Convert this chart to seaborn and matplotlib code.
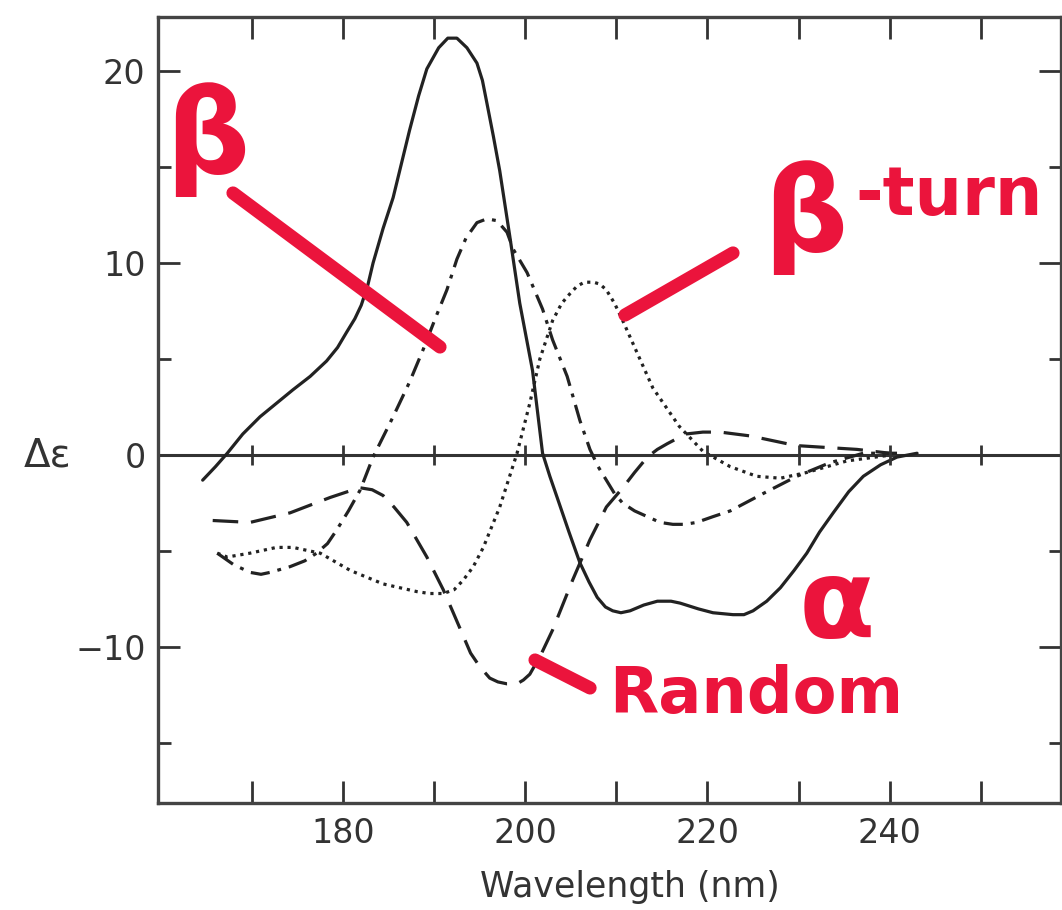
import pandas as pd
import matplotlib
matplotlib.use("Agg")
import matplotlib.pyplot as plt
import seaborn as sns

# CD spectra (wavelength in nm, delta epsilon)
alpha_wl = [164.6, 166.0, 167.3, 169.0, 170.9, 172.7, 174.5, 176.4, 178.2, 179.4, 180.4,
            181.3, 182.0, 182.7, 183.3, 184.4, 185.5, 187.3, 188.3, 189.2, 190.5, 191.5,
            192.5, 193.6, 194.7, 195.3, 195.8, 196.5, 197.2, 198.3, 199.4, 200.8, 201.9,
            202.7, 203.5, 204.8, 206.0, 207.0, 207.9, 208.8, 209.6, 210.5, 211.5, 213.0,
            214.5, 216.0, 217.0, 219.0, 220.6, 222.8, 224.0, 225.0, 226.5, 228.0, 229.5,
            230.9, 232.3, 233.8, 235.5, 237.1, 239.0, 240.8, 243.0]
alpha_de = [-1.3, -0.6, 0.1, 1.1, 2.0, 2.7, 3.4, 4.1, 4.9, 5.6, 6.4,
            7.1, 7.8, 8.8, 10.0, 11.8, 13.4, 16.9, 18.7, 20.1, 21.2, 21.7,
            21.7, 21.2, 20.4, 19.5, 18.3, 16.6, 14.8, 11.4, 7.9, 4.4, 0.1,
            -1.1, -2.2, -4.0, -5.6, -6.6, -7.4, -7.9, -8.1, -8.2, -8.1, -7.8,
            -7.6, -7.6, -7.7, -8.0, -8.2, -8.3, -8.3, -8.1, -7.6, -6.9, -6.0,
            -5.1, -4.0, -3.0, -1.9, -1.1, -0.5, -0.1, 0.1]

sheet_wl = [166.2, 168.0, 169.8, 171.0, 172.0, 174.2, 175.8, 177.1, 178.3, 179.3, 180.6,
            181.9, 183.3, 185.5, 187.3, 188.8, 190.2, 191.4, 192.5, 193.5, 194.7, 195.8,
            196.9, 198.0, 198.7, 200.2, 201.9, 203.0, 204.6, 206.0, 207.1, 208.0, 208.9,
            209.8, 210.7, 212.0, 213.4, 214.8, 216.2, 217.5, 218.8, 220.6, 222.5, 226.1,
            229.8, 233.4, 237.1, 240.8]
sheet_de = [-5.1, -5.7, -6.1, -6.2, -6.1, -5.8, -5.5, -5.1, -4.6, -3.9, -2.9,
            -1.8, -0.1, 2.0, 3.8, 5.5, 7.2, 8.6, 10.2, 11.3, 12.1, 12.3,
            12.2, 11.6, 10.7, 9.5, 7.6, 6.0, 4.1, 1.8, 0.3, -0.6, -1.3,
            -2.0, -2.5, -2.9, -3.2, -3.5, -3.6, -3.6, -3.5, -3.2, -2.9, -2.0,
            -1.1, -0.4, 0.1, 0.1]

turn_wl = [166.2, 167.3, 169.8, 172.7, 174.5, 177.5, 180.8, 184.4, 188.1, 189.5, 191.0,
           192.2, 193.2, 194.3, 195.4, 197.2, 199.1, 200.5, 201.6, 203.0, 204.0, 204.9,
           205.7, 206.5, 207.5, 208.2, 208.9, 209.8, 210.7, 212.3, 214.0, 216.9, 219.5,
           222.5, 225.4, 228.0, 230.9, 235.3, 240.0]
turn_de = [-5.1, -5.3, -5.1, -4.8, -4.8, -5.1, -6.0, -6.7, -7.1, -7.2, -7.2,
           -7.0, -6.5, -5.8, -4.8, -2.7, 0.1, 2.7, 5.0, 7.0, 7.9, 8.4,
           8.8, 9.0, 9.0, 8.9, 8.6, 7.9, 7.0, 5.3, 3.5, 1.5, 0.2,
           -0.6, -1.1, -1.2, -0.9, -0.3, 0.0]

random_wl = [165.7, 169.8, 174.2, 178.6, 180.5, 181.9, 183.2, 184.4, 185.6, 187.0, 189.2,
             191.0, 192.1, 194.0, 195.0, 196.1, 197.0, 198.0, 199.1, 199.8, 200.5, 201.7,
             203.0, 205.2, 207.1, 208.9, 210.7, 212.0, 213.4, 214.5, 215.6, 217.6, 219.5,
             221.4, 224.7, 229.7, 236.4, 240.0]
random_de = [-3.4, -3.5, -3.0, -2.2, -1.9, -1.7, -1.8, -2.1, -2.7, -3.5, -5.3,
             -7.0, -8.2, -10.3, -11.0, -11.6, -11.8, -11.9, -11.9, -11.7, -11.4, -10.4,
             -9.1, -6.5, -4.4, -2.7, -1.7, -0.9, -0.1, 0.3, 0.6, 1.1, 1.2,
             1.2, 1.0, 0.5, 0.3, 0.1]

x_ticks = [170, 180, 190, 200, 210, 220, 230, 240, 250]
x_labels = ["", "180", "", "200", "", "220", "", "240", ""]
y_major = [20, 10, 0, -10]
y_minor = [15, 5, -5, -15]

red = "#eb143c"
ink = "#222222"
grey = "#333333"

frames = []
for name, wl, de in [("alpha", alpha_wl, alpha_de), ("sheet", sheet_wl, sheet_de),
                     ("turn", turn_wl, turn_de), ("random", random_wl, random_de)]:
    frames.append(pd.DataFrame({"wavelength": wl, "delta_eps": de, "structure": name}))
df = pd.concat(frames, ignore_index=True)

sns.set_style("ticks")
plt.rcParams["font.family"] = ["DejaVu Sans"]
plt.rcParams["lines.solid_joinstyle"] = "round"
plt.rcParams["lines.dash_joinstyle"] = "round"

fig = plt.figure(figsize=(10.62, 9.10), dpi=100)
ax = fig.add_axes([0.1488, 0.1176, 0.8503, 0.8637])

sns.lineplot(data=df, x="wavelength", y="delta_eps", style="structure",
             dashes={"alpha": "", "sheet": (6, 2.5, 1.2, 2.5), "turn": (1, 1.5), "random": (8, 4)},
             color=ink, lw=2.3, sort=False, estimator=None, legend=False, ax=ax)

# zero line with its little crossing ticks
ax.axhline(0, color=grey, lw=2.2, zorder=1)
ax.plot(x_ticks, [0] * len(x_ticks), ls="none", marker="|", ms=14, mew=2, color=grey)

ax.set_xlim(159.7, 258.8)
ax.set_ylim(-18.1, 22.8)
ax.set_xticks(x_ticks)
ax.set_xticklabels(x_labels)
ax.set_yticks(y_major)
ax.set_yticks(y_minor, minor=True)
ax.tick_params(which="both", direction="in", top=True, right=True, color=grey,
               width=2, labelsize=24, labelcolor=grey)
ax.tick_params(which="major", length=16)
ax.tick_params(which="minor", length=9)
ax.tick_params(axis="x", pad=10)
ax.tick_params(axis="y", pad=9)
for s in ax.spines.values():
    s.set_linewidth(2.4)
    s.set_color("#444444")

ax.set_ylabel("")
ax.set_xlabel("Wavelength (nm)", fontsize=25, color=grey)
ax.xaxis.set_label_coords(0.522, -0.107)
ax.xaxis.label.set_verticalalignment("center")
ax.text(-0.122, 0, "Δε", transform=ax.get_yaxis_transform(), ha="center", va="center",
        fontsize=28, color=grey)

# red handwritten annotations
def stroke(p0, p1):
    ax.annotate("", xy=p1, xytext=p0, xycoords="figure fraction", textcoords="figure fraction",
                arrowprops=dict(arrowstyle="-", lw=9.5, color=red, shrinkA=0, shrinkB=0,
                                capstyle="round"))

stroke((0.2194, 0.7879), (0.4143, 0.6187))
stroke((0.5885, 0.6538), (0.6902, 0.7220))
stroke((0.5038, 0.2747), (0.5556, 0.2440))

fig.text(0.195, 0.846, "β", color=red, fontsize=85, fontweight="bold", ha="center", va="center")
fig.text(0.758, 0.760, "β", color=red, fontsize=85, fontweight="bold", ha="center", va="center")
fig.text(0.805, 0.785, "-turn", color=red, fontsize=48, fontweight="bold", ha="left", va="center")
fig.text(0.788, 0.333, "α", color=red, fontsize=80, fontweight="bold", ha="center", va="center")
fig.text(0.574, 0.236, "Random", color=red, fontsize=46, fontweight="bold", ha="left", va="center")

fig.savefig("out.png", dpi=100)
